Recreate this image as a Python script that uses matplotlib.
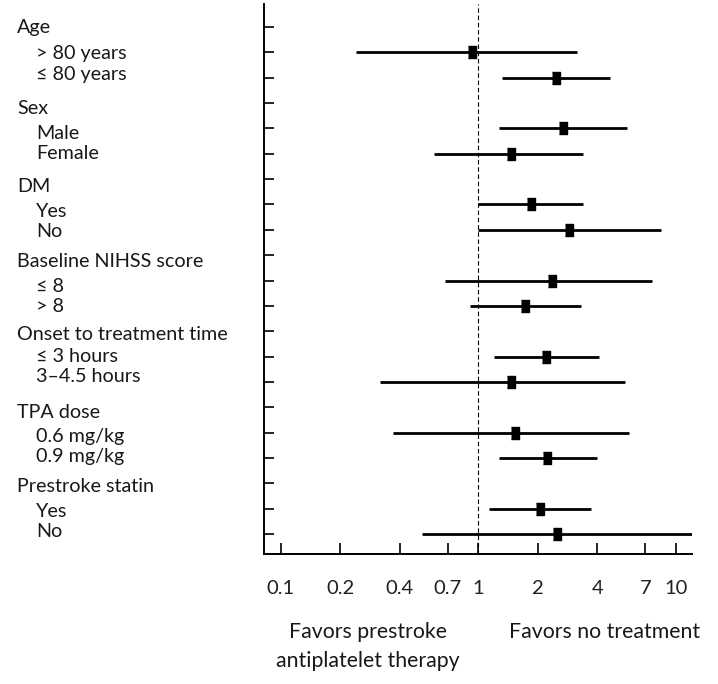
import numpy as np
import matplotlib
matplotlib.use("Agg")
import matplotlib.pyplot as plt

plt.rcParams['font.family'] = ['Lato', 'DejaVu Sans']

# Subgroup odds ratios with 95% CI
groups = ["Age", "Sex", "DM", "Baseline NIHSS score",
          "Onset to treatment time", "TPA dose", "Prestroke statin"]
subgroups = [["> 80 years", "≤ 80 years"],
             ["Male", "Female"],
             ["Yes", "No"],
             ["≤ 8", "> 8"],
             ["≤ 3 hours", "3–4.5 hours"],
             ["0.6 mg/kg", "0.9 mg/kg"],
             ["Yes", "No"]]
odds = [0.93, 2.46, 2.68, 1.46, 1.84, 2.88, 2.35, 1.73,
        2.21, 1.46, 1.53, 2.22, 2.06, 2.49]
ci_low = [0.24, 1.32, 1.27, 0.60, 1.00, 1.00, 0.68, 0.91,
          1.20, 0.32, 0.37, 1.27, 1.13, 0.52]
ci_high = [3.14, 4.66, 5.68, 3.39, 3.39, 8.37, 7.60, 3.29,
           4.08, 5.50, 5.79, 3.98, 3.72, 12.1]

xticks = [0.1, 0.2, 0.4, 0.7, 1, 2, 4, 7, 10]
xtick_labels = ["0.1", "0.2", "0.4", "0.7", "1", "2", "4", "7", "10"]

# label baselines (pixels from top) for the left text column
header_base = [33, 114, 192, 267, 340, 418, 492]
sub_base = [[59, 80], [139, 159], [217, 237], [292, 312],
            [362, 382], [442, 462], [517, 537]]

W, H = 718, 684
fig = plt.figure(figsize=(W / 100, H / 100), dpi=100)
ax = fig.add_axes([264.3 / W, 1 - 554 / H, 428 / W, 550 / H])

# row positions: header rows have no estimate
rows = []
r = 0
for g in subgroups:
    r += 1
    for s in g:
        rows.append(r)
        r += 1
rows = np.array(rows)

ax.hlines(rows, ci_low, ci_high, color='black', lw=2.0, zorder=3)
rect = [(-0.7, -1), (0.7, -1), (0.7, 1), (-0.7, 1)]
ax.plot(odds, rows, linestyle='none', marker=rect, markersize=8.6,
        color='black', zorder=4)
ax.axvline(1, color='black', lw=0.8, dashes=(4, 2.5), zorder=2)

ax.set_xscale('log')
ax.set_xlim(1 / 12.1, 12.1)
ax.set_ylim(20.79, -0.91)
ax.set_xticks(xticks)
ax.set_xticklabels(xtick_labels)
ax.xaxis.set_minor_locator(matplotlib.ticker.NullLocator())
ax.set_yticks(range(21))
ax.set_yticklabels([])
ax.tick_params(axis='x', direction='in', length=8, width=1.2, pad=18.5,
               labelsize=14.5, labelcolor='#231f20')
ax.tick_params(axis='y', direction='in', length=7, width=1.2)
for side in ['top', 'right']:
    ax.spines[side].set_visible(False)
for side in ['left', 'bottom']:
    ax.spines[side].set_linewidth(1.4)

tc = '#1a1718'
fs = 14.2
for g, hb, sl, sb in zip(groups, header_base, subgroups, sub_base):
    fig.text(17 / W, 1 - hb / H, g, fontsize=fs, color=tc, va='baseline')
    for s, b in zip(sl, sb):
        fig.text(36 / W, 1 - b / H, s, fontsize=fs, color=tc, va='baseline')

fs_b = 15.3
fig.text(368 / W, 1 - 638 / H, "Favors prestroke", fontsize=fs_b, color=tc,
         ha='center', va='baseline')
fig.text(368 / W, 1 - 667 / H, "antiplatelet therapy", fontsize=fs_b, color=tc,
         ha='center', va='baseline')
fig.text(605 / W, 1 - 638 / H, "Favors no treatment", fontsize=fs_b, color=tc,
         ha='center', va='baseline')

fig.savefig("out.png", dpi=100)
